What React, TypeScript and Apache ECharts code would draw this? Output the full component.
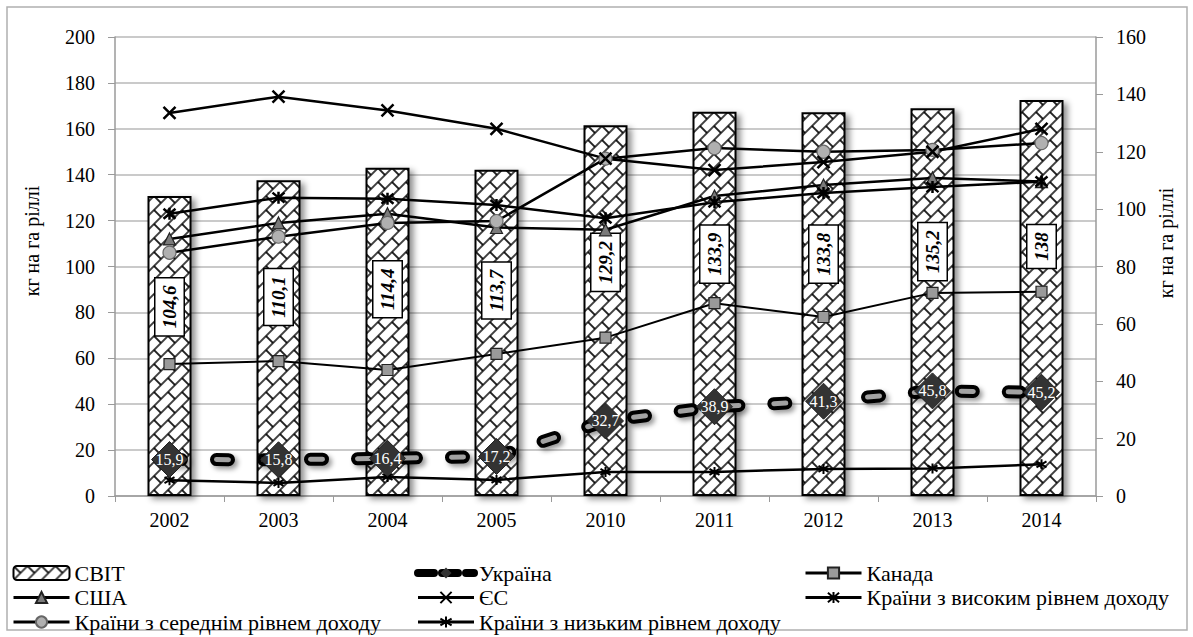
import React, { useEffect, useRef } from 'react';
import * as echarts from 'echarts';

const years = ['2002', '2003', '2004', '2005', '2010', '2011', '2012', '2013', '2014'];
const world = [104.6, 110.1, 114.4, 113.7, 129.2, 133.9, 133.8, 135.2, 138];
const ukraine = [15.9, 15.8, 16.4, 17.2, 32.7, 38.9, 41.3, 45.8, 45.2];
const canada = [57.5, 58.8, 54.9, 61.9, 69, 84, 78, 88.5, 89];
const usa = [112, 119, 123, 117, 116, 130.7, 135.5, 138.6, 137];
const eu = [166.9, 174, 168, 160, 147, 142, 145.5, 150, 160];
const highIncome = [123, 130, 129.5, 126.8, 121, 128, 132, 134.6, 137];
const middleIncome = [106, 113, 119, 119.8, 147, 151.6, 150, 150.8, 153.8];
const lowIncome = [6.9, 5.7, 8.3, 7, 10.5, 10.5, 11.8, 12, 13.8];

const leftAxis = { min: 0, max: 200, step: 20 };
const rightAxis = { min: 0, max: 160, step: 20 };
const axisTitle = 'кг на га ріллі';

const names = {
  world: 'СВІТ',
  ukraine: 'Україна',
  canada: 'Канада',
  usa: 'США',
  eu: 'ЄС',
  high: 'Країни з високим рівнем доходу',
  middle: 'Країни з середнім рівнем доходу',
  low: 'Країни з низьким рівнем доходу',
};

const SERIF = 'Liberation Serif, serif';
const fmt = (v: number) => String(v).replace('.', ',');

function brickPattern() {
  const T = 14;
  const h = T / Math.SQRT2;
  const w = 2 * h;
  const svg =
    `<svg xmlns='http://www.w3.org/2000/svg' width='${T}' height='${T}'>` +
    `<defs><pattern id='b' width='${w}' height='${2 * h}' patternUnits='userSpaceOnUse' patternTransform='rotate(-45)'>` +
    `<rect width='${w}' height='${2 * h}' fill='white'/>` +
    `<path d='M0 0H${w}M0 ${h}H${w}M0 ${2 * h}H${w}M0 0V${h}M${w} 0V${h}M${w / 2} ${h}V${2 * h}' stroke='black' stroke-width='1.7' fill='none'/>` +
    `</pattern></defs><rect width='${T}' height='${T}' fill='url(#b)'/></svg>`;
  return {
    image: 'data:image/svg+xml;charset=utf-8,' + encodeURIComponent(svg),
    repeat: 'repeat',
    imageWidth: T,
    imageHeight: T,
  };
}

const X_SYM = 'path://M0 0L10 10M10 0L0 10';
const STAR_SYM = 'path://M0 0L10 10M10 0L0 10M5 -1L5 11';
const SMALL_STAR = 'path://M0 2L10 8M10 2L0 8M5 0L5 10';

function lineSeries(name: string, data: number[], symbol: string, size: number, fill: string, extra: any = {}) {
  return {
    name,
    type: 'line',
    yAxisIndex: 0,
    data,
    symbol,
    symbolSize: size,
    lineStyle: { color: '#000', width: 2.5 },
    itemStyle: { color: fill, borderColor: '#222', borderWidth: 1.2 },
    z: 3,
    ...extra,
  };
}

export default function App() {
  const ref = useRef<HTMLDivElement>(null);
  useEffect(() => {
    if (!ref.current) return;
    const chart = echarts.init(ref.current, null, { renderer: 'svg' });
    const pattern = brickPattern();
    const legendText = { fontFamily: SERIF, fontSize: 22, color: '#000' };
    const legendBase = {
      orient: 'vertical',
      top: 562,
      height: 80,
      itemWidth: 56,
      itemHeight: 14,
      itemGap: 2.5,
      textStyle: legendText,
      padding: 0,
      lineStyle: { width: 3 },
    };
    const option: any = {
      animation: false,
      backgroundColor: '#fff',
      textStyle: { fontFamily: SERIF },
      grid: { left: 115, right: 97, top: 37, bottom: 141, containLabel: false },
      legend: [
        { ...legendBase, left: 12, data: [names.world, names.usa, names.middle] },
        {
          ...legendBase,
          left: 414,
          data: [
            { name: names.ukraine, lineStyle: { width: 8, type: [16, 8], color: '#000' } },
            names.eu,
            names.low,
          ],
        },
        { ...legendBase, left: 804, data: [names.canada, names.high] },
      ],
      xAxis: {
        type: 'category',
        data: years,
        boundaryGap: true,
        axisLine: { lineStyle: { color: '#9a9a9a', width: 1.5 } },
        axisTick: { show: true, alignWithLabel: false, length: 6, lineStyle: { color: '#9a9a9a' } },
        axisLabel: { fontFamily: SERIF, fontSize: 20, color: '#000', margin: 14 },
      },
      yAxis: [
        {
          type: 'value',
          min: leftAxis.min,
          max: leftAxis.max,
          interval: leftAxis.step,
          axisLine: { show: true, lineStyle: { color: '#9a9a9a', width: 1.5 } },
          axisTick: { show: true, length: 7, lineStyle: { color: '#9a9a9a' } },
          axisLabel: { fontFamily: SERIF, fontSize: 20, color: '#000', margin: 20 },
          splitLine: { show: true, lineStyle: { color: '#b8b8b8', width: 1.5 } },
        },
        {
          type: 'value',
          min: rightAxis.min,
          max: rightAxis.max,
          interval: rightAxis.step,
          position: 'right',
          axisLine: { show: true, lineStyle: { color: '#9a9a9a', width: 1.5 } },
          axisTick: { show: true, length: 7, lineStyle: { color: '#9a9a9a' } },
          axisLabel: { fontFamily: SERIF, fontSize: 20, color: '#000', margin: 20 },
          splitLine: { show: false },
        },
      ],
      graphic: [
        {
          type: 'rect',
          shape: { x: 7, y: 7, width: 1180, height: 623 },
          style: { fill: 'none', stroke: '#b0b0b0', lineWidth: 1.5 },
          silent: true,
        },
        {
          type: 'text',
          x: 32,
          y: 241,
          rotation: Math.PI / 2,
          style: { text: axisTitle, fontFamily: SERIF, fontSize: 20, fill: '#000', align: 'center', verticalAlign: 'middle' },
        },
        {
          type: 'text',
          x: 1166,
          y: 243,
          rotation: Math.PI / 2,
          style: { text: axisTitle, fontFamily: SERIF, fontSize: 20, fill: '#000', align: 'center', verticalAlign: 'middle' },
        },
      ],
      series: [
        {
          name: names.world,
          type: 'bar',
          yAxisIndex: 1,
          data: world,
          barWidth: 44,
          itemStyle: {
            color: pattern,
            borderColor: '#000',
            borderWidth: 2,
            shadowColor: 'rgba(0,0,0,0.45)',
            shadowBlur: 6,
            shadowOffsetX: 4,
            shadowOffsetY: 3,
          },
          label: {
            show: true,
            position: ['50%', '37%'],
            rotate: 90,
            align: 'center',
            verticalAlign: 'middle',
            formatter: (p: any) => fmt(p.value),
            fontFamily: SERIF,
            fontWeight: 'bold',
            fontStyle: 'italic',
            fontSize: 19,
            color: '#000',
            backgroundColor: '#fff',
            borderColor: '#000',
            borderWidth: 1.5,
            padding: [5, 7, 4, 7],
          },
          z: 2,
        },
        lineSeries(names.low, lowIncome, SMALL_STAR, 10, '#000', {
          itemStyle: { color: '#000', borderColor: '#000', borderWidth: 2 },
        }),
        lineSeries(names.canada, canada, 'rect', 11, '#9a9a9a', { lineStyle: { color: '#000', width: 2 } }),
        lineSeries(names.usa, usa, 'triangle', 12, '#7a7a7a'),
        lineSeries(names.middle, middleIncome, 'circle', 13, '#b0b0b0', {
          itemStyle: { color: '#b0b0b0', borderColor: '#666', borderWidth: 1.2 },
        }),
        lineSeries(names.high, highIncome, STAR_SYM, 12, '#000', {
          itemStyle: { color: '#000', borderColor: '#000', borderWidth: 2.5 },
        }),
        lineSeries(names.eu, eu, X_SYM, 12, '#000', {
          itemStyle: { color: '#000', borderColor: '#000', borderWidth: 2.5 },
        }),
        {
          name: names.ukraine,
          type: 'line',
          yAxisIndex: 0,
          data: ukraine,
          symbol: 'diamond',
          showSymbol: false,
          itemStyle: { color: '#333' },
          lineStyle: {
            color: '#000',
            width: 13,
            type: [12, 35],
            cap: 'round',
            shadowColor: 'rgba(0,0,0,0.4)',
            shadowBlur: 5,
            shadowOffsetX: 3,
            shadowOffsetY: 3,
          },
          z: 4,
        },
        {
          name: 'ukr-inner',
          type: 'line',
          yAxisIndex: 0,
          data: ukraine,
          symbol: 'none',
          lineStyle: { color: '#a2a2a2', width: 5, type: [12, 35], cap: 'round' },
          z: 5,
        },
        {
          name: 'ukr-marks',
          type: 'line',
          yAxisIndex: 0,
          data: ukraine,
          symbol: 'diamond',
          symbolSize: 36,
          lineStyle: { width: 0, opacity: 0 },
          itemStyle: { color: '#333', borderColor: '#222', borderWidth: 1 },
          label: {
            show: true,
            position: 'inside',
            formatter: (p: any) => fmt(p.value),
            fontFamily: SERIF,
            fontSize: 16,
            color: '#fff',
          },
          z: 6,
        },
      ],
    };
    chart.setOption(option);
    return () => chart.dispose();
  }, []);
  return (
    <div
      ref={ref}
      style={{ position: 'fixed', left: 0, top: 0, width: 1193, height: 637, background: '#fff' }}
    />
  );
}
